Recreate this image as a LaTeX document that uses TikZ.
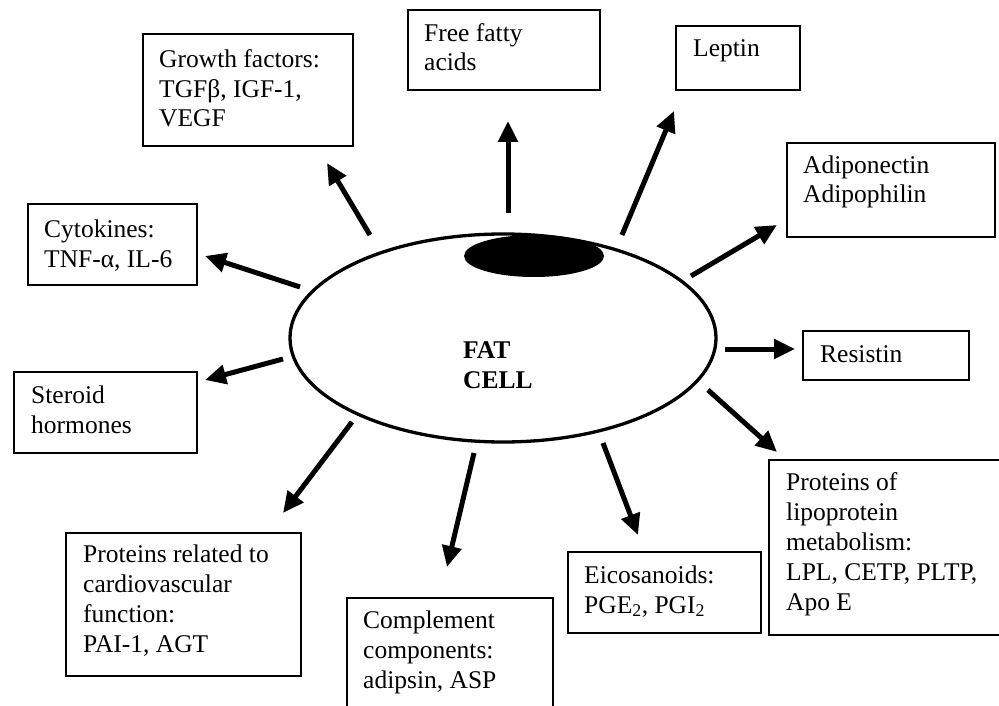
\documentclass[tikz,border=0pt]{standalone}
\usepackage{fontspec}
\setmainfont{Liberation Serif}
\usetikzlibrary{arrows.meta}
\newcommand{\lbfont}{\fontsize{25.5pt}{29.8pt}\selectfont}
\begin{document}
\begin{tikzpicture}[x=1pt,y=-1pt,
  box/.style={draw, line width=2pt, inner sep=0pt, anchor=north west},
  lbl/.style={anchor=base west, align=left, inner sep=0pt, font=\lbfont},
  arr/.style={line width=5pt, -{Triangle[length=21pt,width=19pt]}}]
\useasboundingbox (0,0) rectangle (999,706);
\clip (0,0) rectangle (999,706);
% cell
\draw[line width=3.3pt] (503,338) ellipse [x radius=213, y radius=104];
\fill (534,256) ellipse [x radius=70, y radius=21];
\node[lbl, font=\lbfont\bfseries] (fat) at (463,388) {FAT\\CELL};
% boxes (labels anchored at the baseline of their last line)
\node[box, minimum width=210pt, minimum height=112pt] (gf) at (142,33) {};
\node[lbl] (gft) at (159,127) {Growth factors:\\TGFβ, IGF-1,\\VEGF};
\node[box, minimum width=192pt, minimum height=80pt] (ffa) at (407,9) {};
\node[lbl] (ffat) at (424,71) {Free fatty\\acids};
\node[box, minimum width=124pt, minimum height=64pt] (lep) at (675,25) {};
\node[lbl] (lept) at (693,57) {Leptin};
\node[box, minimum width=208pt, minimum height=94pt] (adi) at (786,142) {};
\node[lbl] (adit) at (803,203) {Adiponectin\\Adipophilin};
\node[box, minimum width=169pt, minimum height=81pt] (cyt) at (27,203) {};
\node[lbl] (cytt) at (44,267) {Cytokines:\\TNF-α, IL-6};
\node[box, minimum width=166pt, minimum height=49pt] (res) at (802,330) {};
\node[lbl] (rest) at (820,362) {Resistin};
\node[box, minimum width=183pt, minimum height=81pt] (ste) at (13,371) {};
\node[lbl] (stet) at (31,433) {Steroid\\hormones};
\node[box, minimum width=240pt, minimum height=175pt] (lip) at (768,459) {};
\node[lbl] (lipt) at (786,610) {Proteins of\\lipoprotein\\metabolism:\\LPL, CETP, PLTP,\\Apo E};
\node[box, minimum width=193pt, minimum height=81pt] (eic) at (567,551) {};
\node[lbl] (eict) at (584,613) {Eicosanoids:\\PGE\textsubscript{2}, PGI\textsubscript{2}};
\node[box, minimum width=235pt, minimum height=143pt] (car) at (65,532) {};
\node[lbl] (cart) at (83,652) {Proteins related to\\cardiovascular\\function:\\PAI-1, AGT};
\node[box, minimum width=206pt, minimum height=130pt] (com) at (346,597) {};
\node[lbl] (comt) at (363,688) {Complement\\components:\\adipsin, ASP};
% arrows
\coordinate (gfA) at (370,235); \coordinate (gfB) at (327,163);
\coordinate (ffaA) at (508,213); \coordinate (ffaB) at (508,121);
\coordinate (lepA) at (622,235); \coordinate (lepB) at (674,111);
\coordinate (adiA) at (691,276); \coordinate (adiB) at (777,225);
\coordinate (cytA) at (300,287); \coordinate (cytB) at (205,256);
\coordinate (resA) at (725,349); \coordinate (resB) at (795,349);
\coordinate (lipA) at (708,390); \coordinate (lipB) at (777,452);
\coordinate (eicA) at (603,443); \coordinate (eicB) at (638,535);
\coordinate (comA) at (474,453); \coordinate (comB) at (447,567);
\coordinate (carA) at (352,422); \coordinate (carB) at (283,513);
\coordinate (steA) at (283,359); \coordinate (steB) at (205,380);
\foreach \n in {gf,ffa,lep,adi,cyt,res,lip,eic,com,car,ste}
  \draw[arr] (\n A) -- (\n B);
\end{tikzpicture}
\end{document}
